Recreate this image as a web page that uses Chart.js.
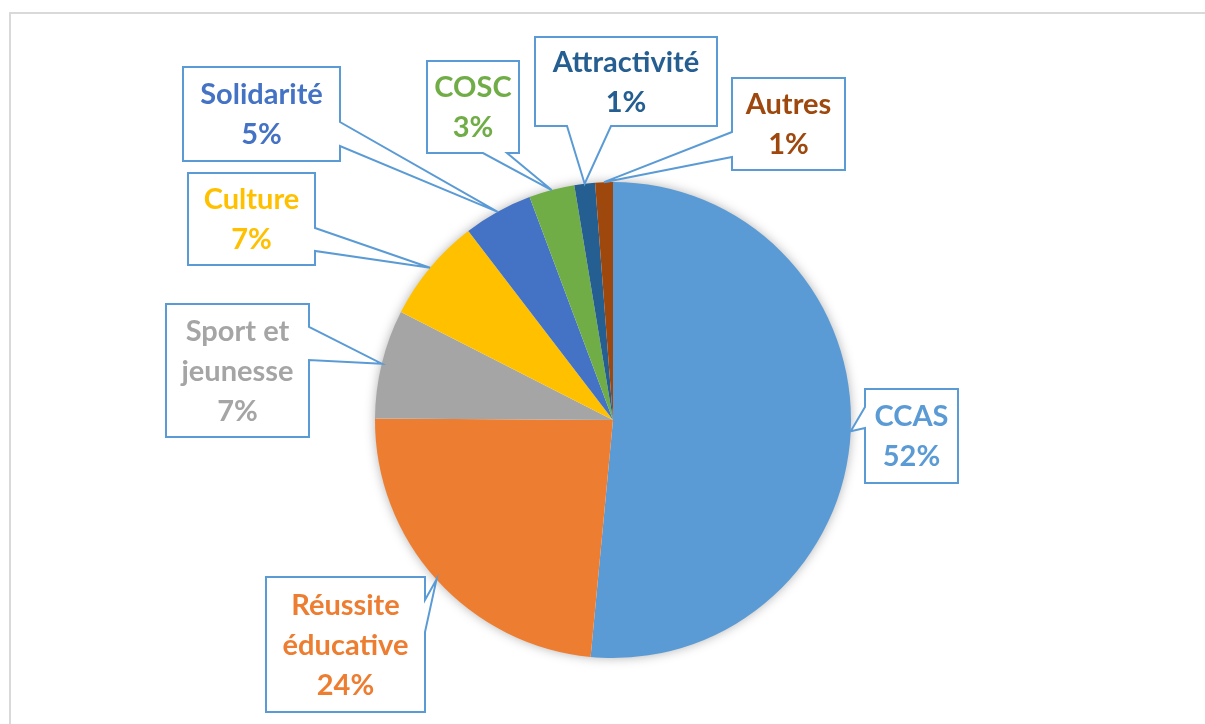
<!DOCTYPE html>
<html>
<head>
<meta charset="utf-8">
<script src="https://cdn.jsdelivr.net/npm/chart.js@4.4.1/dist/chart.umd.min.js"></script>
<style>
  html, body { margin: 0; padding: 0; background: #ffffff; }
  #wrap { position: relative; width: 1205px; height: 724px; overflow: hidden; }
  canvas { display: block; }
</style>
</head>
<body>
<div id="wrap"><canvas id="c" width="1205" height="724"></canvas></div>
<script>
// ---- Data ----
const categories = ['CCAS', 'Réussite éducative', 'Sport et jeunesse', 'Culture', 'Solidarité', 'COSC', 'Attractivité', 'Autres'];
const shares = [51.5, 23.6, 7.4, 7.1, 4.7, 3.1, 1.4, 1.2];
const sliceColors = ['#5B9BD5', '#ED7D31', '#A5A5A5', '#FFC000', '#4472C4', '#70AD47', '#255E91', '#9E480E'];

// ---- Callout layout (relative to pie centre, px) ----
const calloutLayout = [
  { x: 252,  y: -31,  w: 93,  h: 94,  side: 'left',   base: [18, 39] },
  { x: -347, y: 157,  w: 159, h: 135, side: 'right',  base: [23, 55] },
  { x: -447, y: -116, w: 143, h: 133, side: 'right',  base: [23, 56] },
  { x: -425, y: -247, w: 127, h: 92,  side: 'right',  base: [55, 78] },
  { x: -430, y: -353, w: 157, h: 94,  side: 'right',  base: [55, 79] },
  { x: -186, y: -359, w: 92,  h: 92,  side: 'bottom', base: [56, 80] },
  { x: -78,  y: -383, w: 182, h: 89,  side: 'bottom', base: [32, 76] },
  { x: 119,  y: -342, w: 113, h: 92,  side: 'left',   base: [54, 79] }
];

const FONT = 'bold 29px Lato, "Open Sans", sans-serif';
const LINE_H = 40;

const framePlugin = {
  id: 'frame',
  beforeDraw(chart) {
    const ctx = chart.ctx;
    ctx.save();
    ctx.strokeStyle = '#D9D9D9';
    ctx.lineWidth = 2;
    ctx.strokeRect(10, 13, 1210, 800);
    ctx.restore();
  }
};

const shadowPlugin = {
  id: 'pieShadow',
  beforeDatasetsDraw(chart) {
    const arc = chart.getDatasetMeta(0).data[0];
    if (!arc) return;
    const ctx = chart.ctx;
    ctx.save();
    ctx.shadowColor = 'rgba(0,0,0,0.35)';
    ctx.shadowBlur = 12;
    ctx.shadowOffsetX = 0;
    ctx.shadowOffsetY = 0;
    ctx.fillStyle = '#ffffff';
    ctx.beginPath();
    ctx.arc(arc.x, arc.y, arc.outerRadius - 1, 0, Math.PI * 2);
    ctx.fill();
    ctx.restore();
  }
};

function wrapText(ctx, text, maxW) {
  const words = text.split(' ');
  const lines = [];
  let cur = '';
  words.forEach(w => {
    const t = cur ? cur + ' ' + w : w;
    if (cur && ctx.measureText(t).width > maxW) { lines.push(cur); cur = w; }
    else cur = t;
  });
  if (cur) lines.push(cur);
  return lines;
}

const calloutPlugin = {
  id: 'callouts',
  afterDatasetsDraw(chart) {
    const ctx = chart.ctx;
    const meta = chart.getDatasetMeta(0);
    const data = chart.data.datasets[0].data;
    const total = data.reduce((a, b) => a + b, 0);
    meta.data.forEach((arc, i) => {
      const L = calloutLayout[i];
      if (!L) return;
      const cx = arc.x, cy = arc.y;
      const mid = (arc.startAngle + arc.endAngle) / 2;
      const tip = { x: cx + arc.outerRadius * Math.cos(mid), y: cy + arc.outerRadius * Math.sin(mid) };
      const x = cx + L.x, y = cy + L.y, w = L.w, h = L.h;
      const b0 = Math.min(L.base[0], L.base[1]), b1 = Math.max(L.base[0], L.base[1]);
      ctx.save();
      ctx.beginPath();
      ctx.moveTo(x, y);
      if (L.side === 'top') { ctx.lineTo(x + b0, y); ctx.lineTo(tip.x, tip.y); ctx.lineTo(x + b1, y); }
      ctx.lineTo(x + w, y);
      if (L.side === 'right') { ctx.lineTo(x + w, y + b0); ctx.lineTo(tip.x, tip.y); ctx.lineTo(x + w, y + b1); }
      ctx.lineTo(x + w, y + h);
      if (L.side === 'bottom') { ctx.lineTo(x + b1, y + h); ctx.lineTo(tip.x, tip.y); ctx.lineTo(x + b0, y + h); }
      ctx.lineTo(x, y + h);
      if (L.side === 'left') { ctx.lineTo(x, y + b1); ctx.lineTo(tip.x, tip.y); ctx.lineTo(x, y + b0); }
      ctx.closePath();
      ctx.fillStyle = '#ffffff';
      ctx.fill();
      ctx.lineJoin = 'miter';
      ctx.strokeStyle = '#5B9BD5';
      ctx.lineWidth = 2;
      ctx.stroke();

      ctx.font = FONT;
      ctx.fillStyle = sliceColors[i];
      ctx.textAlign = 'center';
      ctx.textBaseline = 'middle';
      const lines = wrapText(ctx, chart.data.labels[i], w - 8);
      lines.push(Math.round(data[i] / total * 100) + '%');
      const n = lines.length;
      lines.forEach((ln, k) => {
        ctx.fillText(ln, x + w / 2, y + h / 2 + 1 + (k - (n - 1) / 2) * LINE_H);
      });
      ctx.restore();
    });
  }
};

new Chart(document.getElementById('c'), {
  type: 'pie',
  data: {
    labels: categories,
    datasets: [{
      data: shares,
      backgroundColor: sliceColors,
      borderWidth: 0
    }]
  },
  options: {
    responsive: false,
    animation: false,
    rotation: 0,
    layout: { padding: { left: 375, right: 354, top: 182, bottom: 66 } },
    plugins: { legend: { display: false }, tooltip: { enabled: false } }
  },
  plugins: [framePlugin, shadowPlugin, calloutPlugin]
});
</script>
</body>
</html>
